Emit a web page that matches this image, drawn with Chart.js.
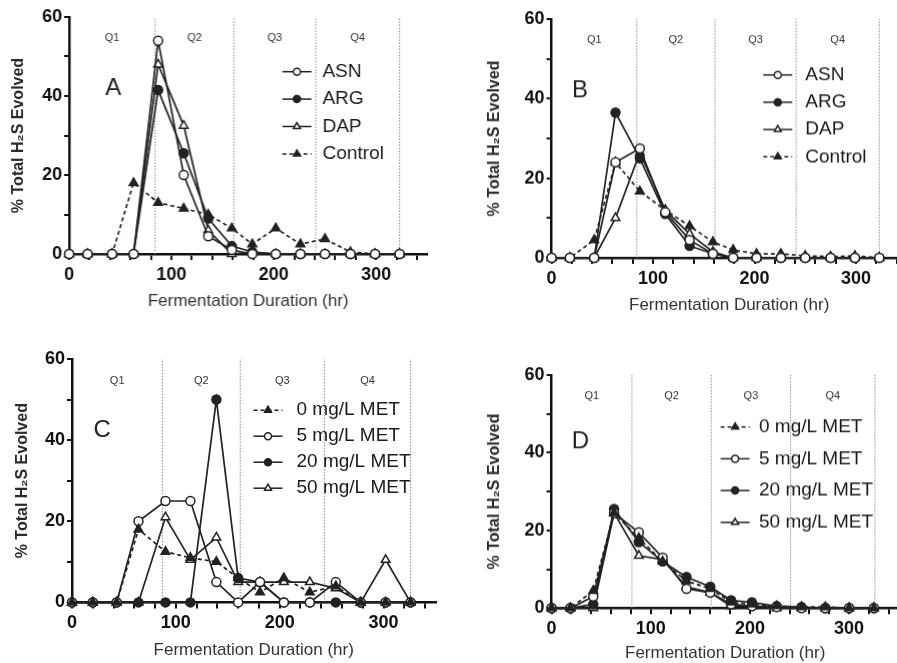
<!DOCTYPE html>
<html>
<head>
<meta charset="utf-8">
<script src="https://cdn.jsdelivr.net/npm/chart.js@4.4.0/dist/chart.umd.min.js"></script>
<style>
  html, body { margin: 0; padding: 0; background: #fff; width: 897px; height: 663px; overflow: hidden; }
  .panel { position: absolute; }
</style>
</head>
<body>
<div class="panel" id="pA"><canvas id="cA"></canvas></div>
<div class="panel" id="pB"><canvas id="cB"></canvas></div>
<div class="panel" id="pC"><canvas id="cC"></canvas></div>
<div class="panel" id="pD"><canvas id="cD"></canvas></div>
<script>
// sampling times (hr)
const timesAB = [0, 18, 42, 63, 87, 112, 136, 159, 179, 202, 226, 250, 275, 299, 323];
const timesC = [0, 20, 43, 64, 90, 114, 139, 160, 181, 204, 229, 254, 278, 302, 326];
const timesD = [0, 19, 42, 63, 88, 112, 136, 160, 181, 202, 227, 252, 276, 300, 325];

// quarter boundaries (dotted lines)
const quartersAB = [84, 161, 241, 323];
const quartersC = [87, 162, 243, 326];
const quartersD = [81, 161, 241, 326];

const xTicks = [0, 100, 200, 300];
const yTicks = [0, 20, 40, 60];

// panel A
const asnA = [0, 0, 0, 0, 54, 20, 4.5, 1, 0, 0, 0, 0, 0, 0, 0];
const argA = [0, 0, 0, 0, 41.5, 25.5, 9, 2, 0.5, 0, 0, 0, 0, 0, 0];
const dapA = [0, 0, 0, 0, 48, 32.5, 6, 0, 0.5, 0, 0, 0, 0, 0, 0];
const ctrlA = [0, 0, 0, 18, 13, 11.5, 10, 6.5, 2.5, 6.5, 2.5, 3.8, 0.5, 0, 0];

// panel B
const asnB = [0, 0, 0, 24, 27.5, 11.5, 4.5, 1, 0, 0, 0, 0, 0, 0, 0];
const argB = [0, 0, 0, 36.5, 25, 11, 3, 1, 0, 0, 0, 0, 0, 0, 0];
const dapB = [0, 0, 0, 10, 26.5, 12, 6, 1.5, 0, 0, 0, 0, 0, 0, 0];
const ctrlB = [0, 0, 4.5, 24, 16.7, 12, 8, 4, 2, 1, 1, 0.5, 0.3, 0.5, 0];

// panel C
const met0C = [0, 0, 0, 18, 12.5, 11, 10, 6, 2.5, 6, 2.5, 4, 0, 0, 0];
const met5C = [0, 0, 0, 20, 25, 25, 5, 0, 5, 0, 0, 5, 0, 0, 0];
const met20C = [0, 0, 0, 0, 0, 0, 50, 6, 5, 0, 0, 0, 0, 0, 0];
const met50C = [0, 0, 0, 0, 21, 10.5, 16, 5, 5, 5, 5, 3.5, 0, 10.5, 0];

// panel D
const met0D = [0, 0, 4.5, 24.5, 18, 12, 7, 5, 1.5, 1, 0.5, 0.3, 0.3, 0, 0];
const met5D = [0, 0, 3, 24.5, 19.5, 13, 5, 4, 1, 0.5, 0.3, 0, 0, 0, 0];
const met20D = [0, 0, 1, 25.5, 17, 12, 8, 5.5, 2, 1.5, 0.5, 0.3, 0, 0, 0];
const met50D = [0, 0, 0, 24.5, 13.5, 12.5, 5.5, 4, 0.5, 0.5, 0, 0, 0, 0, 0];

const FONT = "'Liberation Sans', Arial, 'DejaVu Sans', sans-serif";
const INK = "#222";

const MARKERS = {
  openCircle: { shape: "circle", fill: "#fff", dash: [] },
  filledCircle: { shape: "circle", fill: INK, dash: [] },
  openTriangle: { shape: "triangle", fill: "#fff", dash: [] },
  ctrlTriangle: { shape: "triangle", fill: INK, dash: [4, 3] },
};

function series(label, times, values, kind) {
  const m = MARKERS[kind];
  return {
    label,
    data: times.map((t, i) => ({ x: t, y: values[i] })),
    borderColor: INK,
    borderWidth: 1.7,
    borderDash: m.dash,
    pointStyle: m.shape,
    pointRadius: m.shape === "triangle" ? 5 : 4.5,
    pointBackgroundColor: m.fill,
    pointBorderColor: INK,
    pointBorderWidth: 1.5,
    tension: 0,
    clip: false,
    marker: m,
  };
}

function quarterLines(qs) {
  return qs.map((q) => ({
    isQuarter: true,
    data: [{ x: q, y: 0 }, { x: q, y: 60 }],
    borderColor: "#8a8a8a",
    borderWidth: 1,
    borderDash: [1.5, 1.5],
    pointRadius: 0,
    order: 10,
  }));
}

function drawMarker(ctx, m, x, y, r) {
  ctx.beginPath();
  if (m.shape === "circle") {
    ctx.arc(x, y, r, 0, Math.PI * 2);
  } else {
    let a = 0;
    ctx.moveTo(x + Math.sin(a) * r, y - Math.cos(a) * r);
    a += (2 * Math.PI) / 3;
    ctx.lineTo(x + Math.sin(a) * r, y - Math.cos(a) * r);
    a += (2 * Math.PI) / 3;
    ctx.lineTo(x + Math.sin(a) * r, y - Math.cos(a) * r);
    ctx.closePath();
  }
  ctx.fillStyle = m.fill;
  ctx.fill();
  ctx.strokeStyle = INK;
  ctx.lineWidth = 1.5;
  ctx.stroke();
}

// quarter labels, panel letter and the in-plot legend
const decorPlugin = {
  id: "decor",
  afterDatasetsDraw(chart, args, opts) {
    const { ctx, chartArea, scales } = chart;
    const x = scales.x, y = scales.y;
    ctx.save();
    ctx.textBaseline = "middle";

    ctx.font = `11px ${FONT}`;
    ctx.fillStyle = "#333";
    ctx.textAlign = "center";
    const edges = [0, ...opts.quarters];
    for (let i = 0; i < 4; i++) {
      const mid = (edges[i] + edges[i + 1]) / 2;
      ctx.fillText("Q" + (i + 1), x.getPixelForValue(mid), y.getPixelForValue(54.6));
    }

    ctx.font = `24px ${FONT}`;
    ctx.fillStyle = "#222";
    ctx.fillText(opts.letter, x.getPixelForValue(opts.letterAt[0]), y.getPixelForValue(opts.letterAt[1]));

    const lg = opts.legend;
    chart.data.datasets.filter((d) => !d.isQuarter).forEach((d, i) => {
      const ly = chartArea.top + lg.top + i * lg.step;
      const lx = chartArea.left + lg.line;
      ctx.strokeStyle = INK;
      ctx.lineWidth = 1.5;
      ctx.setLineDash(d.borderDash);
      ctx.beginPath();
      ctx.moveTo(lx, ly);
      ctx.lineTo(lx + 29, ly);
      ctx.stroke();
      ctx.setLineDash([]);
      drawMarker(ctx, d.marker, lx + 14.5, ly, d.marker.shape === "triangle" ? 4 : 3.5);
      ctx.font = `19px ${FONT}`;
      ctx.fillStyle = "#1a1a1a";
      ctx.textAlign = "left";
      ctx.fillText(d.label, chartArea.left + lg.text, ly);
    });
    ctx.restore();
  },
};

const PAD = { left: 4, top: 14, right: 6, bottom: 4 };

function makePanel(p) {
  const [L, T, R, B] = p.area;
  const box = document.getElementById(p.box);
  const left = L - p.yW - PAD.left;
  const top = T - PAD.top;
  box.style.left = left + "px";
  box.style.top = top + "px";
  box.style.width = R + PAD.right - left + "px";
  box.style.height = B + p.xH + PAD.bottom - top + "px";

  return new Chart(document.getElementById(p.canvas), {
    type: "line",
    data: { datasets: [...p.series, ...quarterLines(p.quarters)] },
    plugins: [decorPlugin],
    options: {
      responsive: true,
      maintainAspectRatio: false,
      animation: false,
      events: [],
      layout: { padding: PAD },
      plugins: {
        legend: { display: false },
        tooltip: { enabled: false },
        decor: { quarters: p.quarters, letter: p.letter, letterAt: p.letterAt, legend: p.legend },
      },
      scales: {
        x: {
          type: "linear",
          min: 0,
          max: 350,
          afterFit: (s) => { s.height = p.xH; },
          border: { display: true, color: "#111", width: 2.5 },
          grid: { drawOnChartArea: false, drawTicks: true, tickLength: 6, color: "#111", lineWidth: 2 },
          ticks: {
            stepSize: 20,
            includeBounds: false,
            autoSkip: false,
            maxRotation: 0,
            padding: 4,
            color: "#111",
            font: { family: FONT, size: 18, weight: "bold" },
            callback: (v) => (xTicks.includes(v) ? v : ""),
          },
          title: {
            display: true,
            text: "Fermentation Duration (hr)",
            color: "#333",
            padding: 0,
            font: { family: FONT, size: 17 },
          },
        },
        y: {
          min: 0,
          max: 60,
          afterFit: (s) => { s.width = p.yW; },
          border: { display: true, color: "#111", width: 2.5 },
          grid: { drawOnChartArea: false, drawTicks: true, tickLength: 5, color: "#111", lineWidth: 2 },
          ticks: {
            stepSize: 10,
            autoSkip: false,
            padding: 2,
            color: "#111",
            font: { family: FONT, size: 18, weight: "bold" },
            callback: (v) => (yTicks.includes(v) ? v : ""),
          },
          title: {
            display: true,
            text: "% Total H\u2082S Evolved",
            color: "#2a2a2a",
            padding: 0,
            font: { family: FONT, size: 16, weight: "bold" },
          },
        },
      },
    },
  });
}

makePanel({
  box: "pA", canvas: "cA", area: [69, 17, 426.7, 254], yW: 60, xH: 57.3,
  quarters: quartersAB, letter: "A", letterAt: [43, 42],
  legend: { line: 212.7, text: 252.7, top: 54.7, step: 27.4 },
  series: [
    series("ASN", timesAB, asnA, "openCircle"),
    series("ARG", timesAB, argA, "filledCircle"),
    series("DAP", timesAB, dapA, "openTriangle"),
    series("Control", timesAB, ctrlA, "ctrlTriangle"),
  ],
});

makePanel({
  box: "pB", canvas: "cB", area: [551.3, 19.3, 906.9, 257.3], yW: 66.6, xH: 57.3,
  quarters: quartersAB, letter: "B", letterAt: [28, 42],
  legend: { line: 211.7, text: 253.7, top: 55.7, step: 27.2 },
  series: [
    series("ASN", timesAB, asnB, "openCircle"),
    series("ARG", timesAB, argB, "filledCircle"),
    series("DAP", timesAB, dapB, "openTriangle"),
    series("Control", timesAB, ctrlB, "ctrlTriangle"),
  ],
});

makePanel({
  box: "pC", canvas: "cC", area: [71.5, 359.3, 435.5, 602.7], yW: 59, xH: 58.6,
  quarters: quartersC, letter: "C", letterAt: [29, 42.5],
  legend: { line: 181.5, text: 224.5, top: 51.2, step: 26 },
  series: [
    series("0 mg/L MET", timesC, met0C, "ctrlTriangle"),
    series("5 mg/L MET", timesC, met5C, "openCircle"),
    series("20 mg/L MET", timesC, met20C, "filledCircle"),
    series("50 mg/L MET", timesC, met50C, "openTriangle"),
  ],
});

makePanel({
  box: "pD", canvas: "cD", area: [551.3, 375, 898.9, 607.3], yW: 66.6, xH: 55.3,
  quarters: quartersD, letter: "D", letterAt: [29, 42.8],
  legend: { line: 169, text: 207.4, top: 51.7, step: 31.7 },
  series: [
    series("0 mg/L MET", timesD, met0D, "ctrlTriangle"),
    series("5 mg/L MET", timesD, met5D, "openCircle"),
    series("20 mg/L MET", timesD, met20D, "filledCircle"),
    series("50 mg/L MET", timesD, met50D, "openTriangle"),
  ],
});
</script>
</body>
</html>
